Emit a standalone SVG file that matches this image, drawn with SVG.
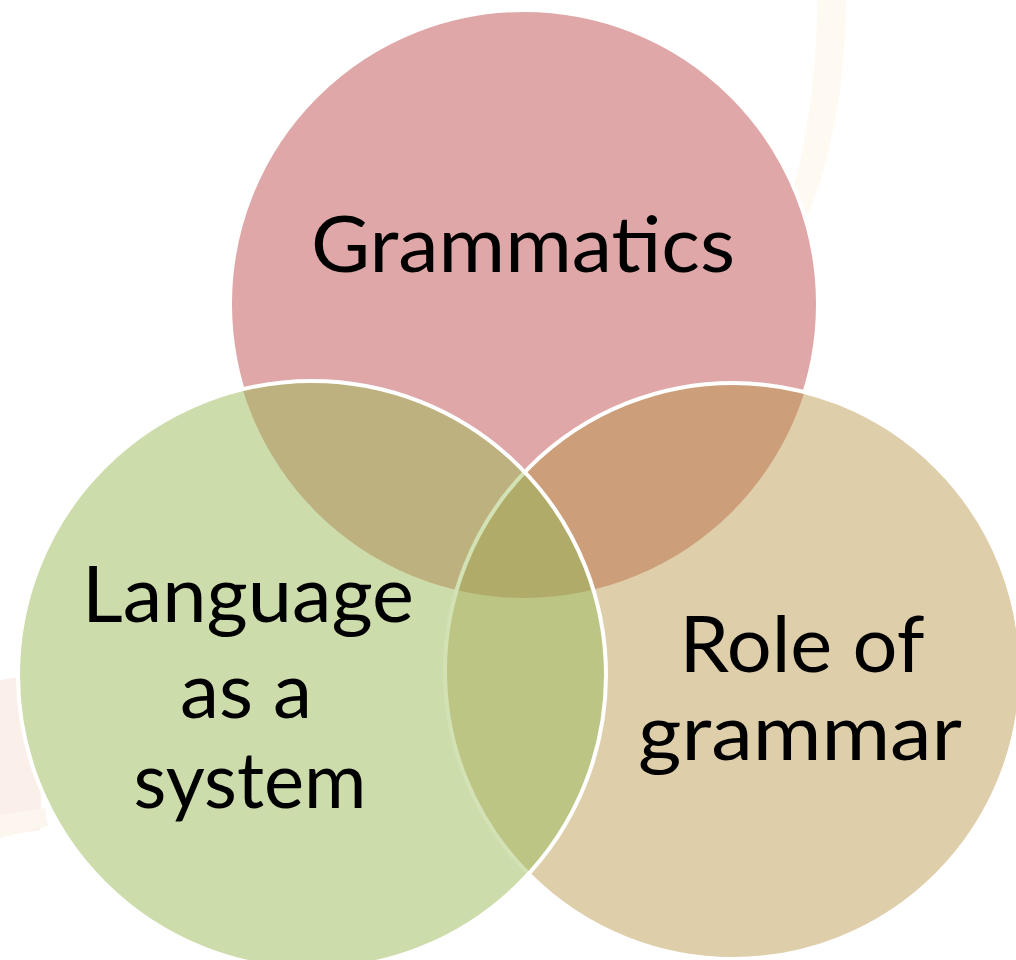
<svg xmlns="http://www.w3.org/2000/svg" width="1016" height="960" viewBox="0 0 1016 960">
<style>
  .lbl { font-family: Lato, "Liberation Sans", sans-serif; font-size: 78px; fill: #000; text-anchor: middle; }
  .edge { fill: none; stroke: #ffffff; stroke-width: 4; }
</style>
<defs>
  <clipPath id="cRed"><circle cx="524" cy="304" r="294"/></clipPath>
  <clipPath id="cTan"><circle cx="733" cy="671" r="288"/></clipPath>
  <clipPath id="cGreen"><circle cx="312" cy="675" r="294"/></clipPath>
</defs>
<rect width="1016" height="960" fill="#ffffff"/>
<g id="background">
  <path d="M817,0 L846,0 C846,70 835,150 808,215 L790,200 C808,140 817,70 817,0 Z" fill="#fffaf1"/>
  <path d="M0,680 L45,673 L40,830 L0,836 Z" fill="#fbefea"/>
  <path d="M0,815 L45,808 L48,826 L0,838 Z" fill="#fdf6ee"/>
</g>
<g id="node-grammatics">
  <circle cx="524" cy="304" r="294" fill="#dfa7a7" class="edge" style="fill:#dfa7a7"/>
  <text class="lbl" x="523" y="272" textLength="424" lengthAdjust="spacingAndGlyphs">Grammatics</text>
</g>
<g id="node-role">
  <circle cx="733" cy="671" r="288" fill="#deceaa"/>
  <g clip-path="url(#cRed)"><circle cx="733" cy="671" r="288" fill="#cd9e7a"/></g>
  <circle cx="733" cy="671" r="288" class="edge"/>
  <text class="lbl" x="802" y="672" textLength="245" lengthAdjust="spacingAndGlyphs">Role of</text>
  <text class="lbl" x="800" y="760" textLength="324" lengthAdjust="spacingAndGlyphs">grammar</text>
</g>
<g id="node-language">
  <circle cx="312" cy="675" r="294" fill="#cddcab"/>
  <g clip-path="url(#cGreen)">
    <g clip-path="url(#cRed)"><rect width="1016" height="960" fill="#bdb17f"/></g>
    <g clip-path="url(#cTan)"><rect width="1016" height="960" fill="#bcc584"/></g>
    <g clip-path="url(#cRed)"><g clip-path="url(#cTan)"><rect width="1016" height="960" fill="#b1ab69"/></g></g>
    <circle cx="733" cy="671" r="288" fill="none" stroke="#d3e2b4" stroke-width="4"/>
  </g>
  <circle cx="312" cy="675" r="294" class="edge"/>
  <text class="lbl" x="248" y="622" textLength="332" lengthAdjust="spacingAndGlyphs">Language</text>
  <text class="lbl" x="246" y="718" textLength="132" lengthAdjust="spacingAndGlyphs">as a</text>
  <text class="lbl" x="250" y="808" textLength="233" lengthAdjust="spacingAndGlyphs">system</text>
</g>
<g id="connectors"></g>
</svg>
